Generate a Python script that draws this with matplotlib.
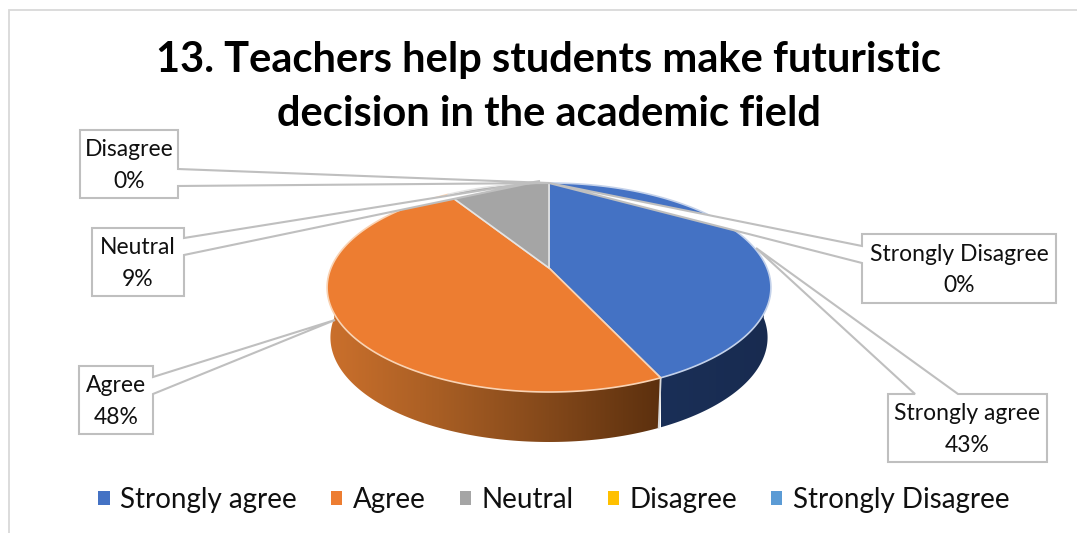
import numpy as np
import matplotlib
matplotlib.use('Agg')
import matplotlib.pyplot as plt
from matplotlib.colors import LinearSegmentedColormap
from matplotlib.patches import Patch, Polygon, Rectangle

plt.rcParams['font.family'] = ['Lato', 'DejaVu Sans']

# Chart data
TITLE = '13. Teachers help students make futuristic\ndecision in the academic field'
categories = ['Strongly agree', 'Agree', 'Neutral', 'Disagree', 'Strongly Disagree']
values = [43, 48, 9, 0, 0]
colors = ['#4472C4', '#ED7D31', '#A5A5A5', '#FFC000', '#5B9BD5']
edge_colors = ['#C3D1EA', '#F9D3B4', '#E4E4E4', '#FFFFFF', '#FFFFFF']

# Pie geometry, in pixels of the picture
CX, CY = 549, 268
RX, BACK, FRONT = 218, 85, 124
DEPTH = 50
TILT = (FRONT - BACK) / (FRONT + BACK)
RY = BACK * (1 + TILT)

# Callouts: box (x0, y0, x1, y1), root of the pointer on the box, tip
callouts = {
    'Strongly agree': ((888, 394, 1047, 462), [(958, 394), (915, 394)], (756, 248)),
    'Agree': ((79, 366, 153, 434), [(153, 377), (153, 394)], (335, 320)),
    'Neutral': ((92, 228, 184, 296), [(184, 238), (184, 255)], (540, 181)),
    'Disagree': ((80, 130, 178, 198), [(178, 169), (178, 186)], (549, 183)),
    'Strongly Disagree': ((862, 234, 1056, 303), [(862, 246), (862, 263)], (549, 183)),
}


def project(theta, drop=0.0):
    # theta runs clockwise from the back of the pie
    x, y = np.sin(theta), np.cos(theta)
    shrink = 1 + TILT * y
    return CX + RX * x / shrink, CY - RY * y / shrink + drop


def draw_wall(ax, start, end, cmap):
    start, end = max(start, np.pi / 2), min(end, 3 * np.pi / 2)
    if end <= start:
        return
    t = np.linspace(start, end, 120)
    top = np.column_stack(project(t))
    bottom = np.column_stack(project(t[::-1], DEPTH))
    # the lower rim is a little narrower than the upper one
    bottom[:, 0] = CX + (bottom[:, 0] - CX) * 0.985
    wall = Polygon(np.vstack([top, bottom]), closed=True, facecolor='none', edgecolor='none')
    ax.add_patch(wall)
    x0, x1 = top[:, 0].min(), top[:, 0].max()
    img = ax.imshow(np.linspace(0, 1, 256)[None, :], cmap=cmap, aspect='auto', zorder=2,
                    extent=(x0, x1, CY + FRONT + DEPTH + 5, CY - 10))
    img.set_clip_path(wall)


def draw_callout(ax, label, pct):
    (x0, y0, x1, y1), roots, tip = callouts[label]
    if roots[0][0] == x1:
        pts = [(x0, y0), (x1, y0), roots[0], tip, roots[1], (x1, y1), (x0, y1)]
    elif roots[0][0] == x0:
        pts = [(x0, y0), (x1, y0), (x1, y1), (x0, y1), roots[1], tip, roots[0]]
    else:
        pts = [(x0, y0), roots[1], tip, roots[0], (x1, y0), (x1, y1), (x0, y1)]
    ax.add_patch(Polygon(pts, closed=True, facecolor='white', edgecolor='#BFBFBF', linewidth=1.5, zorder=5))
    ax.text((x0 + x1) / 2, (y0 + y1) / 2 + 1.5, f'{label}\n{pct}%', ha='center', va='center',
            fontsize=16.5, linespacing=1.6, color='#101010', zorder=6)


fig = plt.figure(figsize=(10.77, 5.33), dpi=100)
ax = fig.add_axes([0, 0, 1, 1])

# Outer frame of the chart, only the top and left edges are in the picture
ax.add_patch(Rectangle((8.5, 9.5), 1200, 600, facecolor='white', edgecolor='#D9D9D9', linewidth=1.3))

edges = np.cumsum([0] + values) / sum(values) * 2 * np.pi
wall_maps = [
    LinearSegmentedColormap.from_list('blue_wall', ['#1A2F57', '#182B50']),
    LinearSegmentedColormap.from_list('orange_wall', ['#CB702C', '#A85E24', '#83481A', '#5C300E']),
    LinearSegmentedColormap.from_list('grey_wall', ['#707070', '#505050']),
]

for i in range(3):
    draw_wall(ax, edges[i], edges[i + 1], wall_maps[i])

# Seam between the blue and orange walls
sx, sy = project(edges[1])
ax.plot([sx, sx - 2], [sy, sy + DEPTH], color='#DADADA', linewidth=1.3, zorder=3)

for i, value in enumerate(values):
    if value == 0:
        continue
    t = np.linspace(edges[i], edges[i + 1], 200)
    rim = np.column_stack(project(t))
    ax.add_patch(Polygon(np.vstack([[CX, CY], rim]), closed=True, facecolor=colors[i],
                         edgecolor=edge_colors[i], linewidth=1.2, joinstyle='round', zorder=4))

for label, value in zip(categories, values):
    draw_callout(ax, label, value)

ax.set_xlim(0, 1077)
ax.set_ylim(533, 0)
ax.axis('off')

ax.text(549, 87, TITLE, ha='center', va='center', fontsize=30, fontweight='bold',
        linespacing=1.5, color='black', zorder=6)

handles = [Patch(facecolor=c, edgecolor='none') for c in colors]
fig.legend(handles, categories, loc='center', bbox_to_anchor=(554 / 1077, 1 - 500 / 533), ncol=5,
           frameon=False, fontsize=20, handlelength=0.4, handleheight=0.4, handletextpad=0.38,
           columnspacing=1.23, labelcolor='#101010', borderpad=0, borderaxespad=0)

fig.savefig('out.png', dpi=100)
